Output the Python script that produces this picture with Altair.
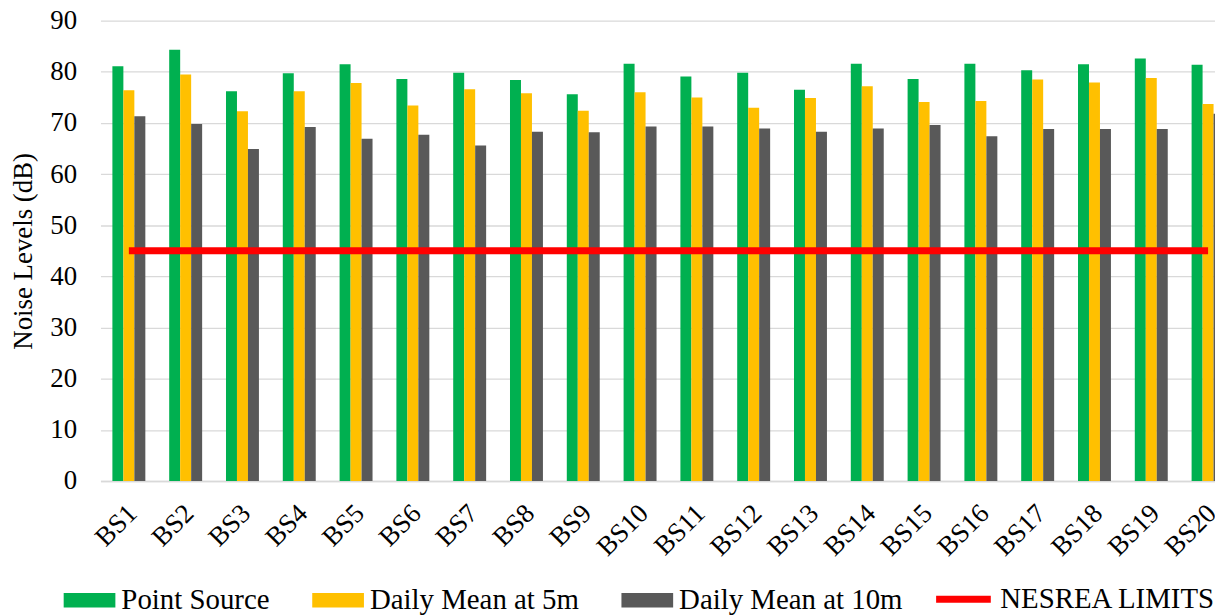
import altair as alt
import pandas as pd

sites = [f"BS{i}" for i in range(1, 21)]
series_names = ["Point Source", "Daily Mean at 5m", "Daily Mean at 10m"]
series_colors = ["#00B050", "#FFC000", "#595959"]

point_source = [81.1, 84.3, 76.2, 79.7, 81.5, 78.6, 79.8, 78.4, 75.6, 81.6,
                79.1, 79.8, 76.5, 81.6, 78.6, 81.6, 80.3, 81.5, 82.6, 81.4]
mean_5m = [76.4, 79.5, 72.3, 76.2, 77.8, 73.4, 76.6, 75.8, 72.4, 76.0,
           75.0, 73.0, 74.9, 77.2, 74.1, 74.3, 78.5, 77.9, 78.8, 73.7]
mean_10m = [71.3, 69.8, 64.9, 69.2, 66.9, 67.7, 65.6, 68.3, 68.2, 69.3,
            69.3, 68.9, 68.3, 68.9, 69.6, 67.4, 68.8, 68.8, 68.8, 71.8]
limit_name = "NESREA LIMITS"
limit_values = [45] * 20
y_ticks = [0, 10, 20, 30, 40, 50, 60, 70, 80, 90]

rows = []
for i, s in enumerate(sites):
    for name, vals in zip(series_names, [point_source, mean_5m, mean_10m]):
        rows.append({"site": s, "series": name, "value": vals[i]})
bars_df = pd.DataFrame(rows)
lim_df = pd.DataFrame({"site": sites, "series": limit_name, "value": limit_values})

FONT = "Liberation Serif"
xscale = alt.Scale(domain=sites, range=[0, 1142.6], paddingInner=0.42, paddingOuter=0.21)
yscale = alt.Scale(domain=[0, 90])

bars = alt.Chart(bars_df).mark_bar().encode(
    x=alt.X("site:N", scale=xscale, title=None,
            axis=alt.Axis(labelAngle=-45, labelAlign="right", labelBaseline="middle",
                          labelPadding=28, labelOffset=4, grid=False, ticks=False, domain=True,
                          domainColor="#D9D9D9", domainWidth=1.5,
                          labelFont=FONT, labelFontSize=27, labelColor="black")),
    xOffset=alt.XOffset("series:N", scale=alt.Scale(domain=series_names, paddingInner=0, paddingOuter=0)),
    y=alt.Y("value:Q", scale=yscale, title="Noise Levels (dB)",
            axis=alt.Axis(values=y_ticks, grid=True, gridColor="#D9D9D9", gridWidth=1.3,
                          domain=False, ticks=False, labelPadding=24,
                          labelFont=FONT, labelFontSize=27, labelColor="black",
                          titleFont=FONT, titleFontSize=27, titleFontWeight="normal",
                          titleColor="black", titlePadding=12)),
    fill=alt.Fill("series:N", scale=alt.Scale(domain=series_names, range=series_colors),
                  legend=alt.Legend(title=None, orient="none", direction="horizontal",
                                    legendX=-37, legendY=557, padding=0,
                                    columnPadding=42, labelOffset=6, labelLimit=400,
                                    symbolType="M-1,-0.28H1V0.28H-1Z", symbolSize=2704,
                                    symbolStrokeWidth=0,
                                    labelFont=FONT, labelFontSize=29, labelColor="black")),
)

line = alt.Chart(lim_df).mark_line(strokeWidth=7, strokeCap="butt").encode(
    x=alt.X("site:N", scale=xscale),
    y=alt.Y("value:Q", scale=yscale),
    stroke=alt.Stroke("series:N", scale=alt.Scale(domain=[limit_name], range=["#FF0000"]),
                      legend=alt.Legend(title=None, orient="none", direction="horizontal",
                                        legendX=837, legendY=551, padding=0,
                                        labelOffset=6, labelLimit=400,
                                        symbolType="stroke", symbolSize=3025,
                                        symbolStrokeWidth=7, symbolStrokeColor="#FF0000",
                                        labelFont=FONT, labelFontSize=29, labelColor="black")),
)

chart = alt.layer(bars, line).properties(
    width=1121, height=463,
    autosize=alt.AutoSizeParams(type="none"),
    padding={"left": 93, "top": 11, "right": 0, "bottom": 133},
).configure_view(stroke=None)

chart.save("out.html", embed_options={"renderer": "svg", "actions": False})
